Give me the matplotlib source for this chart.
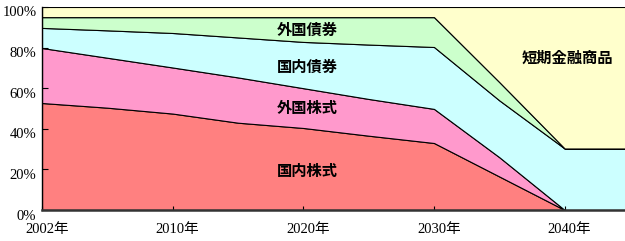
import matplotlib
matplotlib.use("Agg")
import matplotlib.pyplot as plt
import matplotlib.transforms as mtransforms
import numpy as np

# categories (equally spaced, every 5 years after 2002)
years = ["2002年", "2005年", "2010年", "2015年", "2020年", "2025年", "2030年", "2035年", "2040年", "2045年"]
tick_years = ["2002年", "2010年", "2020年", "2030年", "2040年"]

# shares in %
domestic_stock = [52.7, 50.4, 47.5, 43.0, 40.4, 36.6, 33.0, 16.5, 0.0, 0.0]
foreign_stock = [27.1, 24.6, 22.7, 22.3, 19.6, 18.1, 16.8, 9.5, 0.0, 0.0]
domestic_bond = [9.9, 13.5, 17.0, 19.7, 22.8, 26.8, 30.5, 28.0, 30.3, 30.3]
foreign_bond = [5.3, 6.5, 7.8, 10.0, 12.2, 13.5, 14.7, 9.0, 0.0, 0.0]
short_term = [5.0, 5.0, 5.0, 5.0, 5.0, 5.0, 5.0, 37.0, 69.7, 69.7]

names = ["国内株式", "外国株式", "国内債券", "外国債券", "短期金融商品"]
colors = ["#FF8080", "#FF99CC", "#CCFFFF", "#CCFFCC", "#FFFFCC"]

fig = plt.figure(figsize=(6.25, 2.41), dpi=100)
ax = fig.add_axes([42 / 625, 31 / 241, (630 - 42) / 625, 203 / 241])

x = np.arange(len(years))
ax.stackplot(x, domestic_stock, foreign_stock, domestic_bond, foreign_bond, short_term,
             colors=colors, edgecolor="black", linewidth=0.8)

ax.set_xlim(0, len(years) - 1)
ax.set_ylim(0, 100)

ax.set_xticks([years.index(t) for t in tick_years])
ax.set_xticklabels(tick_years, family=["Liberation Serif", "Noto Sans CJK JP"], fontsize=10.5)
ax.set_yticks(range(0, 101, 20))
ax.set_yticklabels([f"{v}%" for v in range(0, 101, 20)], family="Liberation Serif", fontsize=10.5)
ax.tick_params(axis="x", direction="in", length=3, pad=9)
ax.tick_params(axis="y", direction="in", length=4, pad=4)

off_y = mtransforms.ScaledTranslation(0, -4.5 / 100, fig.dpi_scale_trans)
for lab in ax.get_yticklabels():
    lab.set_transform(lab.get_transform() + off_y)
off_x = mtransforms.ScaledTranslation(5 / 100, 0, fig.dpi_scale_trans)
for lab in ax.get_xticklabels():
    lab.set_transform(lab.get_transform() + off_x)

for side in ["top", "right"]:
    ax.spines[side].set_visible(False)
ax.spines["bottom"].set_linewidth(1.8)
ax.spines["bottom"].set_color("#333333")
ax.spines["left"].set_linewidth(1.0)

# in-area labels
label_pos = {
    "外国債券": (4.06, 88.7),
    "国内債券": (4.06, 70.4),
    "外国株式": (4.06, 50.2),
    "国内株式": (4.06, 19.2),
    "短期金融商品": (8.04, 74.9),
}
for name in names:
    lx, ly = label_pos[name]
    ax.text(lx, ly, name, ha="center", va="center", fontsize=11, fontweight="bold",
            family="Noto Sans CJK JP")

fig.savefig("out.png", dpi=100)
